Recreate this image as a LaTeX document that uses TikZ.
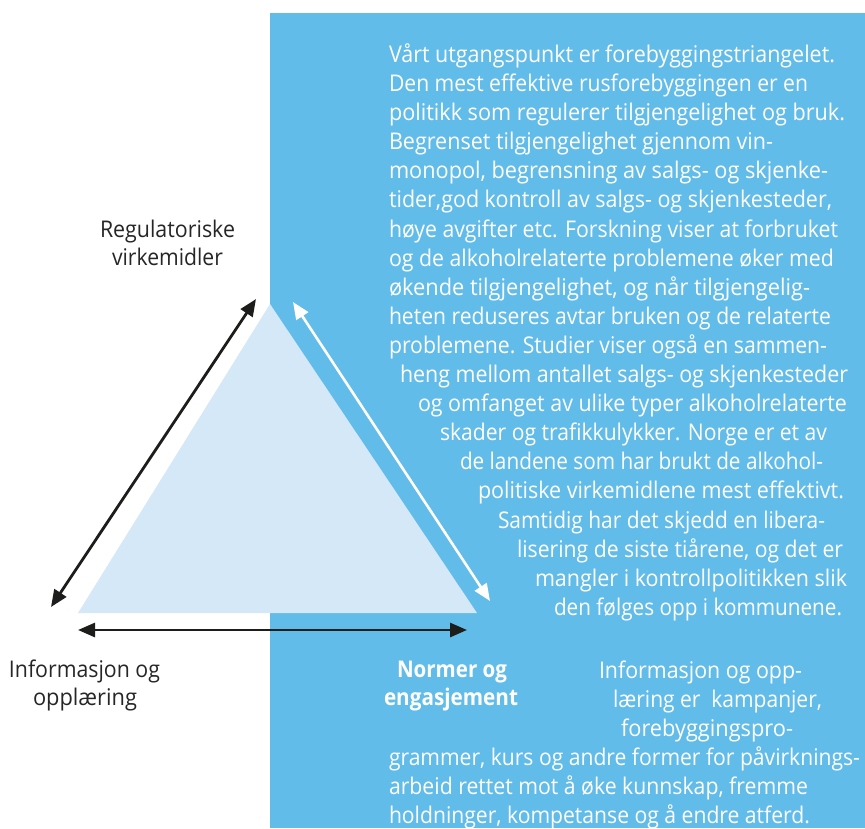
\documentclass[tikz,border=0pt]{standalone}
\usepackage{fontspec}
\setmainfont{Open Sans}
\usepackage{graphicx}
\usetikzlibrary{arrows.meta}
\definecolor{skyblue}{HTML}{62BCE9}
\definecolor{paleblue}{HTML}{D4E8F8}
\definecolor{inkblack}{HTML}{1D1D1B}
\definecolor{labelgray}{HTML}{262626}
\newcommand\fitw[2]{\resizebox{#1pt}{\height}{#2}}
\begin{document}
\begin{tikzpicture}[x=1pt,y=-1pt,
  bodytext/.style={anchor=base west, inner sep=0pt, outer sep=0pt, text=white, font=\fontsize{23}{29}\selectfont},
  sidelabel/.style={anchor=base west, inner sep=0pt, outer sep=0pt, text=labelgray, font=\fontsize{23}{29}\selectfont},
  boldlabel/.style={anchor=base west, inner sep=0pt, outer sep=0pt, text=white, font=\fontsize{23}{29}\selectfont\bfseries},
  tip/.tip={Triangle[length=17pt,width=14pt]},
  darkarrow/.style={tip-tip, line width=2.8pt, draw=inkblack},
  lightarrow/.style={tip-tip, line width=2.6pt, draw=white}]
\useasboundingbox (0,0) rectangle (865,828);
% background panel
\fill[skyblue] (270,13) rectangle (865,828);
% triangle
\coordinate (apex) at (270,304);
\coordinate (baseR) at (477,613);
\coordinate (baseL) at (78,613);
\fill[paleblue] (apex) -- (baseR) -- (baseL) -- cycle;
% arrows
\coordinate (la1) at (51,607);
\coordinate (la2) at (256,299);
\coordinate (ra1) at (293,302);
\coordinate (ra2) at (490,601);
\coordinate (ba1) at (78,630);
\coordinate (ba2) at (467,630);
\draw[darkarrow] (la1) -- (la2);
\draw[lightarrow] (ra1) -- (ra2);
\draw[darkarrow] (ba1) -- (ba2);
% main text
\node[bodytext] (t1) at (389,62) {\fitw{446}{Vårt utgangspunkt er forebyggingstriangelet.}};
\node[bodytext] (t2) at (389,91) {\fitw{419}{Den mest effektive rusforebyggingen er en}};
\node[bodytext] (t3) at (389,120) {\fitw{456}{politikk som regulerer tilgjengelighet og bruk.}};
\node[bodytext] (t4) at (389,149) {\fitw{384}{Begrenset tilgjengelighet gjennom vin-}};
\node[bodytext] (t5) at (389,178) {\fitw{439}{monopol, begrensning av salgs- og skjenke-}};
\node[bodytext] (t6) at (389,207) {\fitw{443}{tider,god kontroll av salgs- og skjenkesteder,}};
\node[bodytext] (t7) at (389,237) {\fitw{449}{høye avgifter etc. Forskning viser at forbruket}};
\node[bodytext] (t8) at (389,266) {\fitw{445}{og de alkoholrelaterte problemene øker med}};
\node[bodytext] (t9) at (389,295) {\fitw{421}{økende tilgjengelighet, og når tilgjengelig-}};
\node[bodytext] (t10) at (389,324) {\fitw{442}{heten reduseres avtar bruken og de relaterte}};
\node[bodytext] (t11) at (389,353) {\fitw{438}{problemene. Studier viser også en sammen-}};
\node[bodytext] (t12) at (400,382) {\fitw{448}{heng mellom antallet salgs- og skjenkesteder}};
\node[bodytext] (t13) at (418,411) {\fitw{429}{og omfanget av ulike typer alkoholrelaterte}};
\node[bodytext] (t14) at (440,440) {\fitw{387}{skader og trafikkulykker. Norge er et av}};
\node[bodytext] (t15) at (460,469) {\fitw{363}{de landene som har brukt de alkohol-}};
\node[bodytext] (t16) at (478,498) {\fitw{366}{politiske virkemidlene mest effektivt.}};
\node[bodytext] (t17) at (498,528) {\fitw{327}{Samtidig har det skjedd en libera-}};
\node[bodytext] (t18) at (517,557) {\fitw{326}{lisering de siste tiårene, og det er}};
\node[bodytext] (t19) at (535,586) {\fitw{312}{mangler i kontrollpolitikken slik}};
\node[bodytext] (t20) at (554,615) {\fitw{288}{den følges opp i kommunene.}};
% lower text
\node[bodytext] (b1) at (599,678) {\fitw{203}{Informasjon og opp-}};
\node[bodytext] (b2) at (613,707) {\fitw{209}{læring er\ \ kampanjer,}};
\node[bodytext] (b3) at (621,736) {\fitw{172}{forebyggingspro-}};
\node[bodytext] (b4) at (389,765) {\fitw{471}{grammer, kurs og andre former for påvirknings-}};
\node[bodytext] (b5) at (389,794) {\fitw{419}{arbeid rettet mot å øke kunnskap, fremme}};
\node[bodytext] (b6) at (389,823) {\fitw{421}{holdninger, kompetanse og å endre atferd.}};
% corner labels
\node[sidelabel] (reg1) at (100,237) {\fitw{135}{Regulatoriske}};
\node[sidelabel] (reg2) at (112,265) {\fitw{111}{virkemidler}};
\node[sidelabel] (inf1) at (9,677) {\fitw{151}{Informasjon og}};
\node[sidelabel] (inf2) at (33,705) {\fitw{104}{opplæring}};
\node[boldlabel] (nor1) at (397,677) {\fitw{110}{Normer og}};
\node[boldlabel] (nor2) at (384,705) {\fitw{134}{engasjement}};
\end{tikzpicture}
\end{document}
